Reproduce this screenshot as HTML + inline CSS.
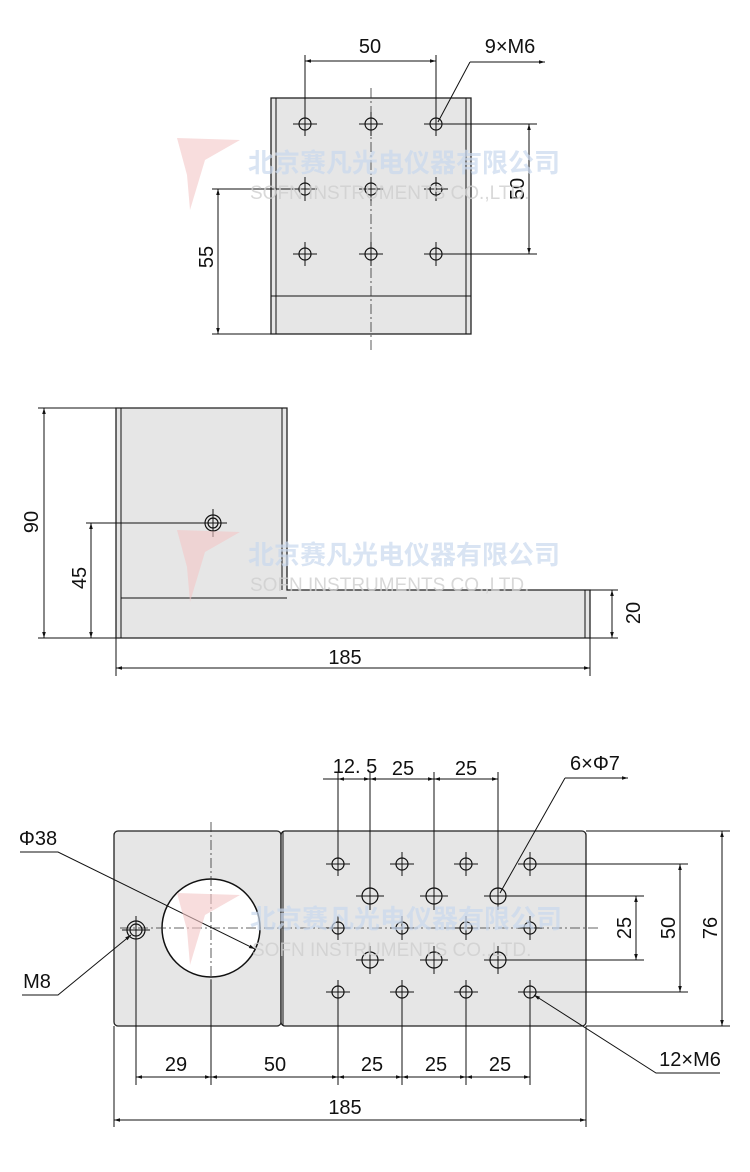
<!DOCTYPE html>
<html><head><meta charset="utf-8"><style>
html,body{margin:0;padding:0;background:#fff;}
svg{display:block;}
text{font-family:"Liberation Sans","Noto Sans CJK SC",sans-serif;fill:#111;}
.t{font-size:20px;}
.l{stroke:#111;stroke-width:1;fill:none;}
.p{fill:#e6e6e6;stroke:#222;stroke-width:1.3;}
.h{fill:none;stroke:#111;stroke-width:1.2;}
.c{stroke:#333;stroke-width:0.8;stroke-dasharray:10,3,2,3;fill:none;}
.wm{font-size:26px;font-weight:bold;fill:#c9d9ee;opacity:.7;}
.we{font-size:19px;fill:#cfcfcf;opacity:.8;}
</style></head><body>
<svg width="750" height="1172" viewBox="0 0 750 1172" xmlns="http://www.w3.org/2000/svg">
<defs>
<marker id="a" viewBox="0 0 10 10" refX="10" refY="5" markerWidth="9" markerHeight="6" orient="auto-start-reverse"><path d="M0,2 L10,5 L0,8 z" fill="#111"/></marker>
<g id="hole"><circle r="6" class="h"/><path d="M-12,0H12M0,-12V12" class="l" stroke-width="0.8"/></g>
<g id="hole7"><circle r="8" class="h"/><path d="M-14,0H14M0,-14V14" class="l" stroke-width="0.8"/></g>
</defs>

<!-- TOP VIEW -->
<rect x="271" y="98" width="200" height="236" class="p"/>
<path d="M276,98V334M466,98V334M271,296H471" class="l"/>
<path d="M371,88V350" class="c"/>
<g>
<use href="#hole" x="305" y="124"/><use href="#hole" x="371" y="124"/><use href="#hole" x="436" y="124"/>
<use href="#hole" x="305" y="189"/><use href="#hole" x="371" y="189"/><use href="#hole" x="436" y="189"/>
<use href="#hole" x="305" y="254"/><use href="#hole" x="371" y="254"/><use href="#hole" x="436" y="254"/>
</g>
<path d="M305,55V118M436,55V118" class="l"/>
<path d="M305,61H436" class="l" marker-start="url(#a)" marker-end="url(#a)"/>
<text x="370" y="53" class="t" text-anchor="middle">50</text>
<path d="M470,62L438,122M470,62H545" class="l" marker-end="url(#a)"/>
<text x="510" y="53" class="t" text-anchor="middle">9×M6</text>
<path d="M444,124H537M444,254H537" class="l"/>
<path d="M529,124V254" class="l" marker-start="url(#a)" marker-end="url(#a)"/>
<text transform="translate(524,189) rotate(-90)" class="t" text-anchor="middle">50</text>
<path d="M212,189H298M212,334H271" class="l"/>
<path d="M218,189V334" class="l" marker-start="url(#a)" marker-end="url(#a)"/>
<text transform="translate(213,257) rotate(-90)" class="t" text-anchor="middle">55</text>

<!-- SIDE VIEW -->
<path d="M116,408H287V590H590V638H116Z" class="p"/>
<path d="M121,408V638M282,408V590M121,598H287M585,590V638" class="l"/>
<circle cx="213" cy="523" r="8" class="h"/><circle cx="213" cy="523" r="5" class="h"/>
<path d="M199,523H227M213,509V537" class="l" stroke-width="0.7"/>
<path d="M38,408H116M38,638H116" class="l"/>
<path d="M44,408V638" class="l" marker-start="url(#a)" marker-end="url(#a)"/>
<text transform="translate(38,522) rotate(-90)" class="t" text-anchor="middle">90</text>
<path d="M86,523H205" class="l"/>
<path d="M91,523V638" class="l" marker-start="url(#a)" marker-end="url(#a)"/>
<text transform="translate(86,578) rotate(-90)" class="t" text-anchor="middle">45</text>
<path d="M590,590H618M590,638H618" class="l"/>
<path d="M612,590V638" class="l" marker-start="url(#a)" marker-end="url(#a)"/>
<text transform="translate(640,613) rotate(-90)" class="t" text-anchor="middle">20</text>
<path d="M116,638V676M590,638V676" class="l"/>
<path d="M116,668H590" class="l" marker-start="url(#a)" marker-end="url(#a)"/>
<text x="345" y="664" class="t" text-anchor="middle">185</text>

<!-- BOTTOM VIEW -->
<rect x="114" y="831" width="167" height="195" rx="4" class="p"/>
<rect x="281" y="831" width="305" height="195" rx="4" class="p"/>
<path d="M283,831V1026" class="l"/>
<circle cx="211" cy="928" r="49" fill="#fff" stroke="#111" stroke-width="1.5"/>
<path d="M211,822V1035" class="c"/>
<path d="M120,928H600" class="c"/>
<circle cx="136" cy="930" r="9" class="h"/><circle cx="136" cy="930" r="6" class="h"/>
<path d="M122,930H150M136,916V944" class="l" stroke-width="0.7"/>
<g>
<use href="#hole" x="338" y="864"/><use href="#hole" x="402" y="864"/><use href="#hole" x="466" y="864"/><use href="#hole" x="530" y="864"/>
<use href="#hole" x="338" y="928"/><use href="#hole" x="402" y="928"/><use href="#hole" x="466" y="928"/><use href="#hole" x="530" y="928"/>
<use href="#hole" x="338" y="992"/><use href="#hole" x="402" y="992"/><use href="#hole" x="466" y="992"/><use href="#hole" x="530" y="992"/>
<use href="#hole7" x="370" y="896"/><use href="#hole7" x="434" y="896"/><use href="#hole7" x="498" y="896"/>
<use href="#hole7" x="370" y="960"/><use href="#hole7" x="434" y="960"/><use href="#hole7" x="498" y="960"/>
</g>
<!-- top dims -->
<path d="M338,772V858M370,772V888M434,772V888M498,772V888" class="l"/>
<path d="M323,779H338" class="l"/>
<path d="M338,779H370" class="l" marker-start="url(#a)" marker-end="url(#a)"/>
<path d="M370,779H434" class="l" marker-start="url(#a)" marker-end="url(#a)"/>
<path d="M434,779H498" class="l" marker-start="url(#a)" marker-end="url(#a)"/>
<text x="355" y="773" class="t" text-anchor="middle">12. 5</text>
<text x="403" y="775" class="t" text-anchor="middle">25</text>
<text x="466" y="775" class="t" text-anchor="middle">25</text>
<path d="M565,778L500,893M565,778H628" class="l" marker-end="url(#a)"/>
<text x="595" y="770" class="t" text-anchor="middle">6×Φ7</text>
<!-- right dims -->
<path d="M540,864H688M510,896H644M510,960H644M540,992H688M586,831H730M586,1026H730" class="l"/>
<path d="M636,896V960" class="l" marker-start="url(#a)" marker-end="url(#a)"/>
<path d="M680,864V992" class="l" marker-start="url(#a)" marker-end="url(#a)"/>
<path d="M722,831V1026" class="l" marker-start="url(#a)" marker-end="url(#a)"/>
<text transform="translate(631,928) rotate(-90)" class="t" text-anchor="middle">25</text>
<text transform="translate(675,928) rotate(-90)" class="t" text-anchor="middle">50</text>
<text transform="translate(717,928) rotate(-90)" class="t" text-anchor="middle">76</text>
<!-- bottom dims -->
<path d="M136,940V1085M211,980V1085M338,1000V1085M402,1000V1085M466,1000V1085M530,1000V1085M114,1026V1127M586,1026V1127" class="l"/>
<path d="M136,1077H211" class="l" marker-start="url(#a)" marker-end="url(#a)"/>
<path d="M211,1077H338" class="l" marker-start="url(#a)" marker-end="url(#a)"/>
<path d="M338,1077H402" class="l" marker-start="url(#a)" marker-end="url(#a)"/>
<path d="M402,1077H466" class="l" marker-start="url(#a)" marker-end="url(#a)"/>
<path d="M466,1077H530" class="l" marker-start="url(#a)" marker-end="url(#a)"/>
<text x="176" y="1071" class="t" text-anchor="middle">29</text>
<text x="275" y="1071" class="t" text-anchor="middle">50</text>
<text x="372" y="1071" class="t" text-anchor="middle">25</text>
<text x="436" y="1071" class="t" text-anchor="middle">25</text>
<text x="500" y="1071" class="t" text-anchor="middle">25</text>
<path d="M114,1120H586" class="l" marker-start="url(#a)" marker-end="url(#a)"/>
<text x="345" y="1114" class="t" text-anchor="middle">185</text>
<!-- leaders -->
<path d="M20,852H58L255,949" class="l" marker-end="url(#a)"/>
<text x="38" y="845" class="t" text-anchor="middle">Φ38</text>
<path d="M22,995H58L131,935" class="l" marker-end="url(#a)"/>
<text x="37" y="988" class="t" text-anchor="middle">M8</text>
<path d="M720,1073H656L534,995" class="l" marker-end="url(#a)"/>
<text x="690" y="1066" class="t" text-anchor="middle">12×M6</text>

<!-- watermarks -->
<g>
<text x="248" y="172" class="wm">北京赛凡光电仪器有限公司</text>
<text x="250" y="199" class="we">SOFN INSTRUMENTS CO.,LTD.</text>
<text x="248" y="564" class="wm">北京赛凡光电仪器有限公司</text>
<text x="250" y="591" class="we">SOFN INSTRUMENTS CO.,LTD.</text>
<text x="250" y="928" class="wm">北京赛凡光电仪器有限公司</text>
<text x="252" y="956" class="we">SOFN INSTRUMENTS CO.,LTD.</text>
<path d="M177,138L240,140L205,160L190,210L187,175Z" fill="#f3c7c7" opacity=".6"/>
<path d="M177,530L240,532L205,552L190,602L187,567Z" fill="#f3c7c7" opacity=".6"/>
<path d="M177,893L240,895L205,915L190,965L187,930Z" fill="#f3c7c7" opacity=".6"/>
</g>
</svg>
</body></html>
